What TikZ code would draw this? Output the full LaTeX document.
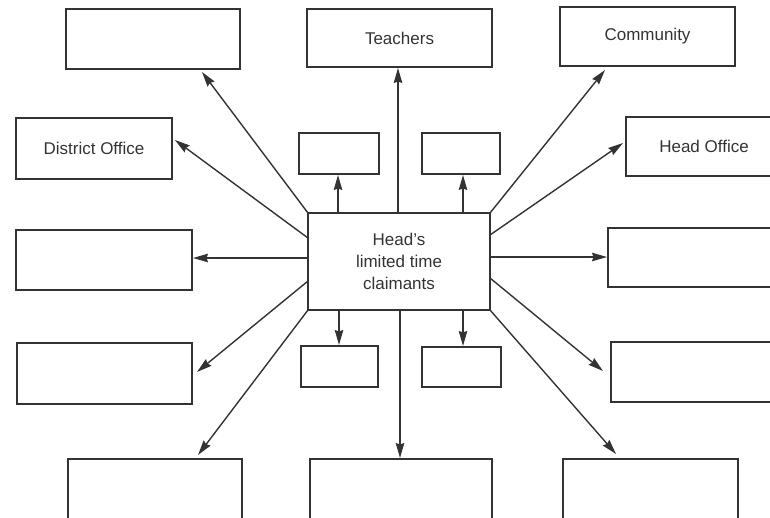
\documentclass[tikz,border=0pt]{standalone}
\usepackage{fontspec}
\setmainfont{Liberation Sans}
\usetikzlibrary{calc,arrows.meta}
\definecolor{ink}{HTML}{333333}
\tikzset{
  box/.style={draw=ink, line width=2.2pt, inner sep=0pt, outer sep=0pt, anchor=north west,
              font=\fontsize{17}{22}\selectfont, text=ink, align=center},
  arr/.style={draw=ink, line width=1.4pt, -{Stealth[length=15pt,width=8.5pt,inset=1.5pt]}}
}
\begin{document}
\begin{tikzpicture}[x=1pt,y=-1pt]
\useasboundingbox (0,0) rectangle (770,517);
\clip (0,0) rectangle (770,517);
% boxes (pixel coordinates, y downward)
\node[box, minimum width=174pt, minimum height=60pt] (tl) at (66,9) {};
\node[box, minimum width=185pt, minimum height=58pt] (teach) at (307,9) {Teachers};
\node[box, minimum width=175pt, minimum height=59pt] (comm) at (560,7) {Community};
\node[box, minimum width=156pt, minimum height=61pt] (dist) at (16,118) {District Office};
\node[box, minimum width=156pt, minimum height=59pt] (head) at (626,117) {Head Office};
\node[box, minimum width=80pt, minimum height=41pt] (sTL) at (299,133) {};
\node[box, minimum width=78pt, minimum height=41pt] (sTR) at (422,133) {};
\node[box, minimum width=182pt, minimum height=97pt] (c) at (308,213) {Head's\\limited time\\claimants};
\node[box, minimum width=176pt, minimum height=60pt] (lm) at (16,230) {};
\node[box, minimum width=182pt, minimum height=59pt] (rm) at (608,228) {};
\node[box, minimum width=175pt, minimum height=61pt] (ll) at (17,343) {};
\node[box, minimum width=77pt, minimum height=41pt] (sBL) at (301,346) {};
\node[box, minimum width=79pt, minimum height=40pt] (sBR) at (422,347) {};
\node[box, minimum width=179pt, minimum height=60pt] (rl) at (611,342) {};
\node[box, minimum width=174pt, minimum height=80pt] (bl) at (68,459) {};
\node[box, minimum width=182pt, minimum height=80pt] (bm) at (310,459) {};
\node[box, minimum width=175pt, minimum height=80pt] (br) at (563,459) {};
% connectors
\draw[arr] (c.north west) -- ($(tl.south west)+(136,3)$);
\draw[arr] ($(c.north west)+(0,25)$) -- ($(dist.north east)+(3,22)$);
\draw[arr] ($(c.north west)+(0,45)$) -- ($(lm.north east)+(1,28)$);
\draw[arr] ($(c.north west)+(0,68)$) -- ($(ll.north east)+(5,29)$);
\draw[arr] (c.south west) -- ($(bl.north west)+(130,-4)$);
\draw[arr] ($(c.north west)+(30,0)$) -- ($(sTL.south west)+(39,1)$);
\draw[arr] ($(c.north west)+(90,0)$) -- ($(teach.south west)+(91,1)$);
\draw[arr] ($(c.north west)+(155,0)$) -- ($(sTR.south west)+(41,1)$);
\draw[arr] (c.north east) -- ($(comm.south west)+(45,4)$);
\draw[arr] ($(c.north east)+(0,22)$) -- ($(head.north west)+(-3,26)$);
\draw[arr] ($(c.north east)+(0,44)$) -- ($(rm.north west)+(-1,29)$);
\draw[arr] ($(c.north east)+(0,65)$) -- ($(rl.north west)+(-8,29)$);
\draw[arr] (c.south east) -- ($(br.north west)+(53,-5)$);
\draw[arr] ($(c.south west)+(31,0)$) -- ($(sBL.north west)+(38,-1)$);
\draw[arr] ($(c.south west)+(92,0)$) -- ($(bm.north west)+(90,-1)$);
\draw[arr] ($(c.south west)+(155,0)$) -- ($(sBR.north west)+(41,-1)$);
\end{tikzpicture}
\end{document}
